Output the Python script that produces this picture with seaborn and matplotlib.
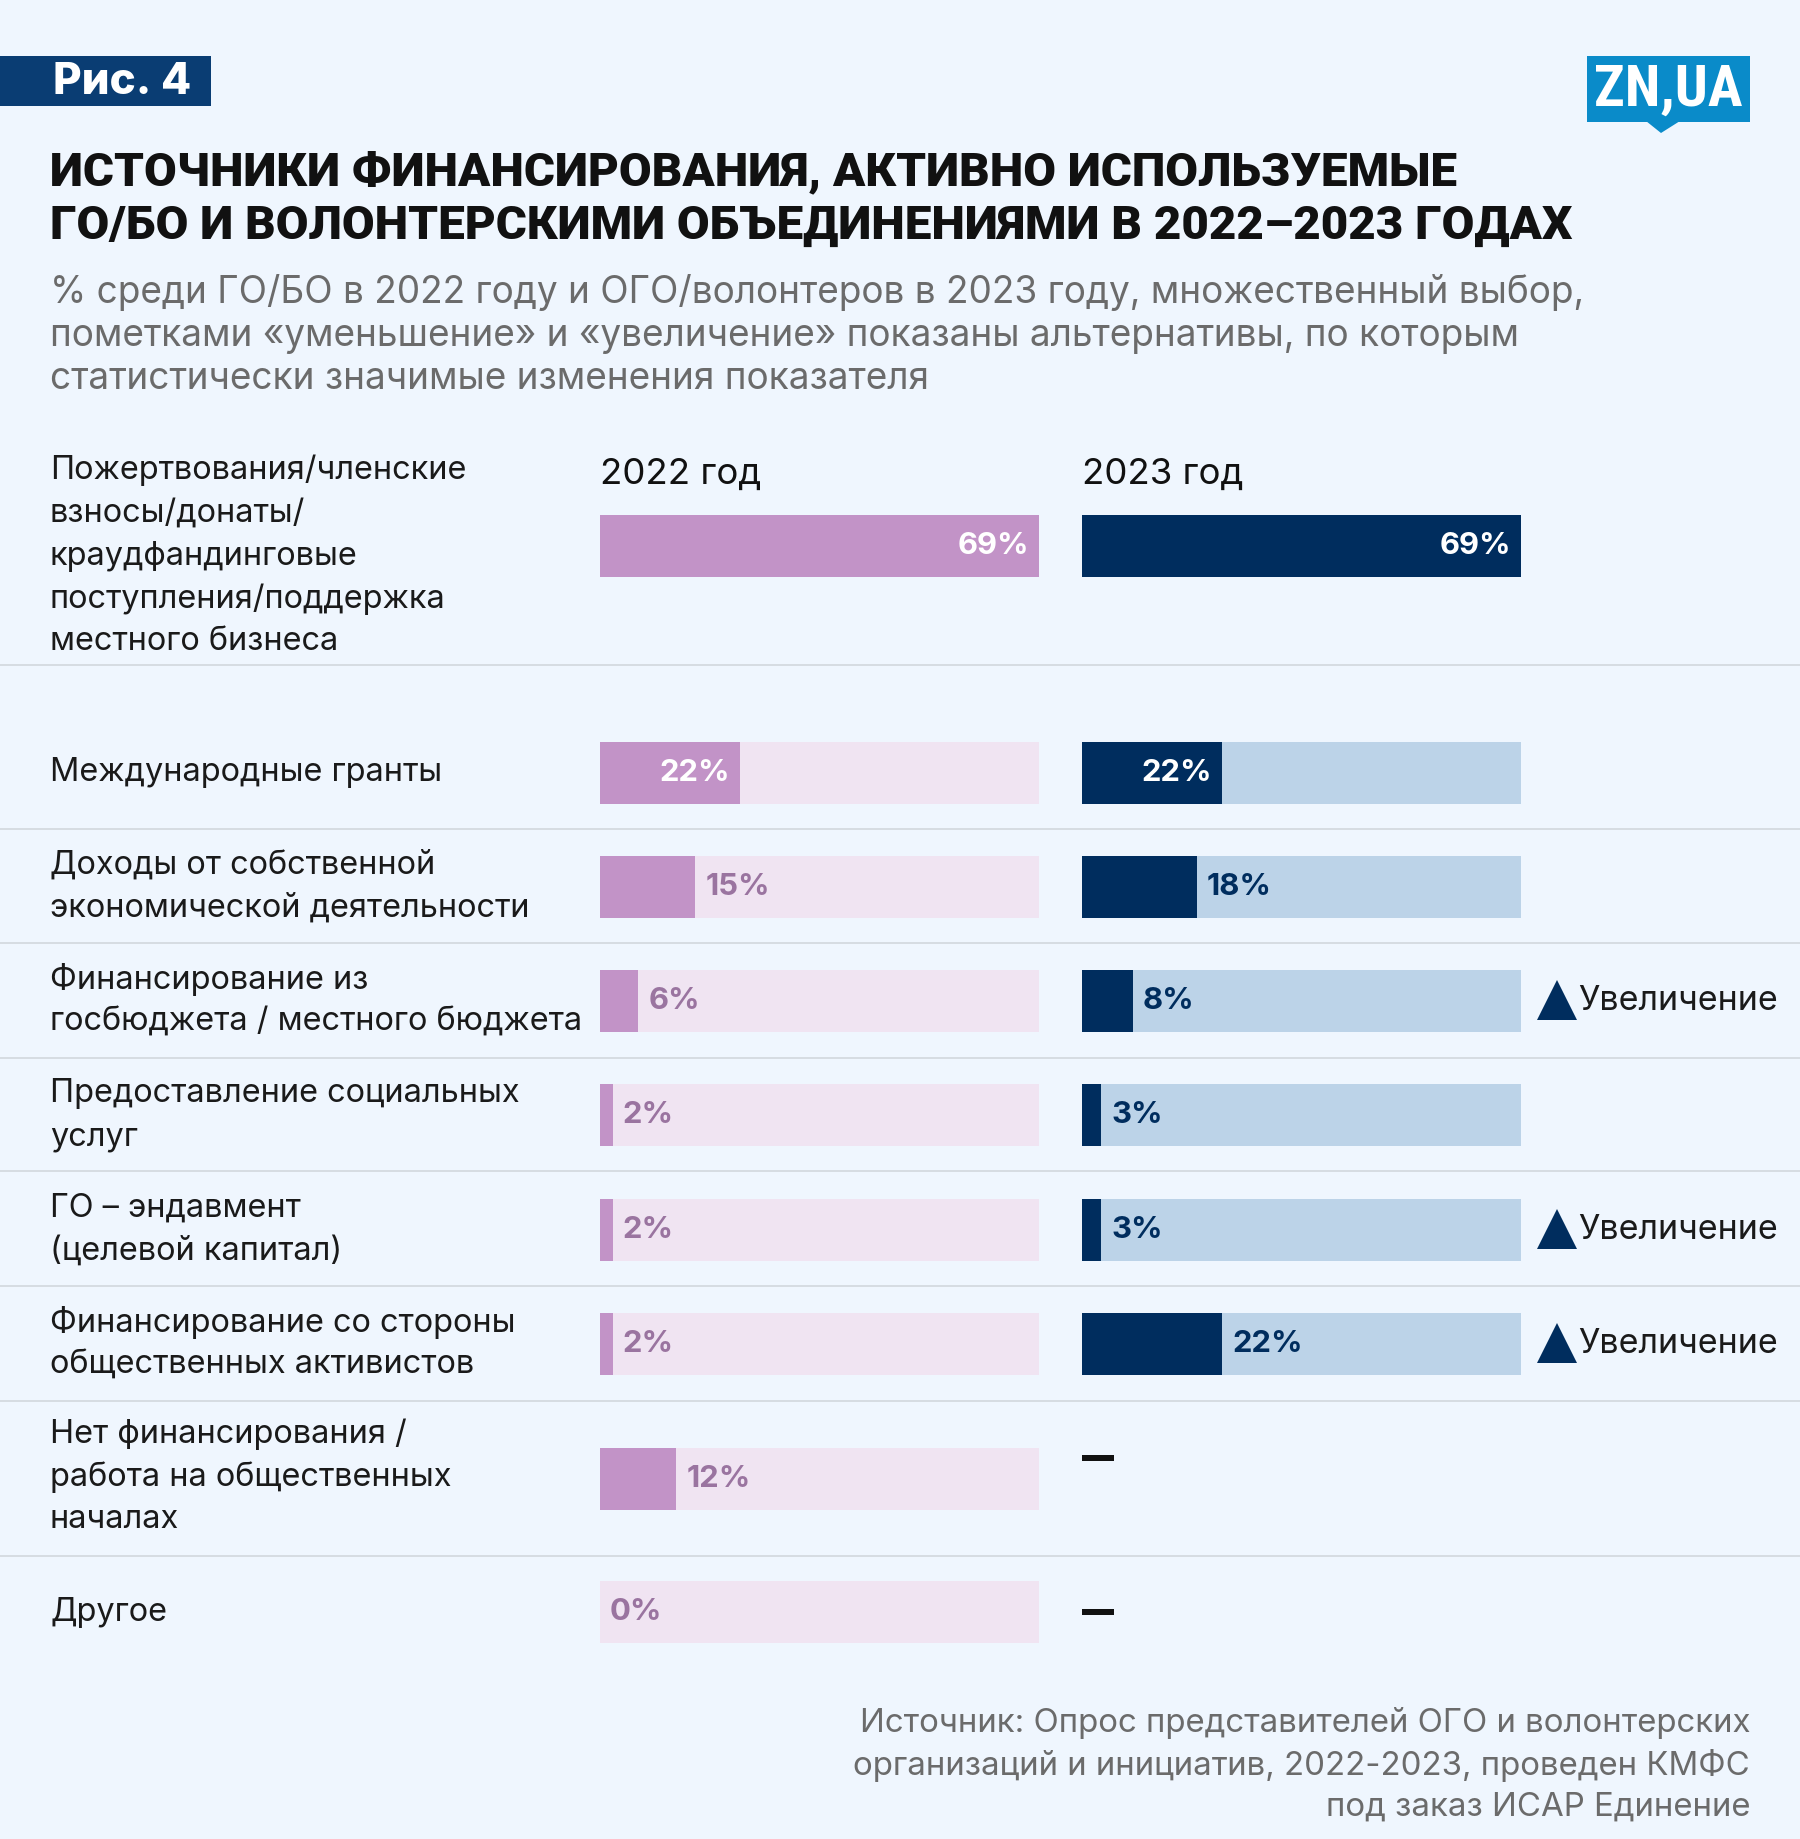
import numpy as np
import pandas as pd
import matplotlib
matplotlib.use("Agg")
import matplotlib.pyplot as plt
import seaborn as sns

# ---------------- data ----------------
categories = [
    "Пожертвования/членские\nвзносы/донаты/\nкраудфандинговые\nпоступления/поддержка\nместного бизнеса",
    "Международные гранты",
    "Доходы от собственной\nэкономической деятельности",
    "Финансирование из\nгосбюджета / местного бюджета",
    "Предоставление социальных\nуслуг",
    "ГО – эндавмент\n(целевой капитал)",
    "Финансирование со стороны\nобщественных активистов",
    "Нет финансирования /\nработа на общественных\nначалах",
    "Другое",
]
values_2022 = [69, 22, 15, 6, 2, 2, 2, 12, 0]
values_2023 = [69, 22, 18, 8, 3, 3, 22, None, None]
change_2023 = ["", "", "", "Увеличение", "", "Увеличение", "Увеличение", "", ""]
headers = ["2022 год", "2023 год"]

title = "ИСТОЧНИКИ ФИНАНСИРОВАНИЯ, АКТИВНО ИСПОЛЬЗУЕМЫЕ\nГО/БО И ВОЛОНТЕРСКИМИ ОБЪЕДИНЕНИЯМИ В 2022–2023 ГОДАХ"
subtitle = ("% среди ГО/БО в 2022 году и ОГО/волонтеров в 2023 году, множественный выбор,\n"
            "пометками «уменьшение» и «увеличение» показаны альтернативы, по которым\n"
            "статистически значимые изменения показателя")
source = ("Источник: Опрос представителей ОГО и волонтерских\n"
          "организаций и инициатив, 2022-2023, проведен КМФС\n"
          "под заказ ИСАР Единение")
fig_label = "Рис. 4"
logo_text = "ZN,UA"

# ---------------- layout / style ----------------
W, H = 1800, 1839
DPI = 100
PT = 72 / DPI  # px -> pt

BG = "#eff6fe"
PINK, PINK_TRACK, PINK_TXT = "#c293c7", "#f0e4f2", "#9a74a0"
NAVY, BLUE_TRACK = "#002d5e", "#bcd3e8"
DARK = "#1a1a1a"
GRAY = "#6b6b6b"
SEP = "#d6dce2"
BODY = ["Inter", "DejaVu Sans"]
HEAVY = ["Roboto", "DejaVu Sans"]

row_y = [546, 773, 887, 1001, 1115, 1230, 1344, 1479, 1612]
label_y = [556, 773, 887, 1001, 1115, 1230, 1344, 1477, 1612]
sep_y = [665, 829, 943, 1058, 1171, 1286, 1401, 1556]
dash_y = {7: 1458, 8: 1612}
inside_2022 = [True, True, False, False, False, False, False, False, False]
inside_2023 = [True, True, False, False, False, False, False, False, False]
BAR_H = 62
TRACK_MAX = 69
LINE_H = 43

sns.set_theme(style="white")
plt.rcParams["font.family"] = BODY

fig = plt.figure(figsize=(W / DPI, H / DPI), dpi=DPI, facecolor=BG)

# overlay axes in pixel coordinates
ov = fig.add_axes([0, 0, 1, 1], facecolor="none")
ov.set_xlim(0, W)
ov.set_ylim(H, 0)
ov.axis("off")
ov.set_zorder(0)


def txt(x, y, s, size, **kw):
    ov.text(x, y, s, fontsize=size * PT, **kw)


# figure tag
ov.add_patch(plt.Rectangle((0, 56), 211, 50, color="#0a3d73", lw=0))
txt(53, 82, fig_label, 44, color="white", fontweight="heavy", va="center", ha="left",
    family=BODY)

# logo
ov.add_patch(plt.Rectangle((1587, 56), 163, 66, color="#0a8bc9", lw=0))
ov.add_patch(plt.Polygon([[1646, 121], [1680, 121], [1661, 133]], color="#0a8bc9", lw=0))
txt(1668, 90, logo_text, 58, color="white", fontweight="bold", va="center", ha="center",
    family=["Roboto Condensed", "Roboto", "DejaVu Sans"])

# title and subtitle
for i, line in enumerate(title.split("\n")):
    txt(50, 172 + i * 54, line, 47.5, color="#111111", fontweight="black", va="center",
        ha="left", family=HEAVY)
for i, line in enumerate(subtitle.split("\n")):
    txt(50, 292 + i * 43.5, line, 37, color=GRAY, va="center", ha="left")

# source
for i, line in enumerate(source.split("\n")):
    txt(1750, 1723 + i * 42, line, 33, color=GRAY, va="center", ha="right")

# separators
for y in sep_y:
    ov.plot([0, W], [y, y], color=SEP, lw=2 * PT, solid_capstyle="butt")

# row labels
for cat, yc in zip(categories, label_y):
    lines = cat.split("\n")
    n = len(lines)
    for i, line in enumerate(lines):
        txt(50, yc + (i - (n - 1) / 2) * LINE_H, line, 32.5, color=DARK, va="center", ha="left")

# column headers
txt(600, 474, headers[0], 36.6, color="#111111", va="center", ha="left")
txt(1082, 474, headers[1], 36.6, color="#111111", va="center", ha="left")


def bar_axes(x0, x1):
    ax = fig.add_axes([x0 / W, 0, (x1 - x0) / W, 1], facecolor="none")
    ax.set_zorder(1)
    return ax


def draw_column(ax, values, fill, track, out_color, inside):
    df = pd.DataFrame({"y": row_y, "v": values})
    df = df.dropna()
    ys = np.sort(df["y"].to_numpy())
    width = BAR_H / np.min(np.diff(ys))
    df["track"] = TRACK_MAX
    sns.barplot(data=df, x="track", y="y", orient="y", native_scale=True, width=width,
                color=track, saturation=1, errorbar=None, linewidth=0, ax=ax)
    sns.barplot(data=df, x="v", y="y", orient="y", native_scale=True, width=width,
                color=fill, saturation=1, errorbar=None, linewidth=0, ax=ax)
    for idx, row in df.iterrows():
        v, y = row["v"], row["y"]
        label = f"{int(v)}%"
        if inside[idx]:
            ax.annotate(label, (v, y), xytext=(-10 * PT, 0), textcoords="offset points",
                        ha="right", va="center", color="white", fontweight="bold",
                        fontsize=31 * PT)
        else:
            ax.annotate(label, (v, y), xytext=(10 * PT, 0), textcoords="offset points",
                        ha="left", va="center", color=out_color, fontweight="bold",
                        fontsize=31 * PT)
    ax.set_xlim(0, TRACK_MAX)
    ax.set_ylim(H, 0)
    ax.axis("off")


ax22 = bar_axes(600, 1039)
draw_column(ax22, values_2022, PINK, PINK_TRACK, PINK_TXT, inside_2022)

ax23 = bar_axes(1082, 1521)
draw_column(ax23, values_2023, NAVY, BLUE_TRACK, NAVY, inside_2023)

# missing 2023 values -> dash
for i, v in enumerate(values_2023):
    if v is None:
        yd = dash_y.get(i, row_y[i])
        ax23.plot([0, TRACK_MAX * 32 / 439], [yd, yd], color="#111111", lw=6 * PT,
                  solid_capstyle="butt")

# change markers
for i, ch in enumerate(change_2023):
    if ch:
        ov.plot([1557], [row_y[i] - 1], marker="^", markersize=40 * PT, color=NAVY,
                markeredgewidth=0)
        txt(1578, row_y[i], ch, 34, color=DARK, va="center", ha="left")

fig.savefig("out.png", dpi=DPI, facecolor=BG)
